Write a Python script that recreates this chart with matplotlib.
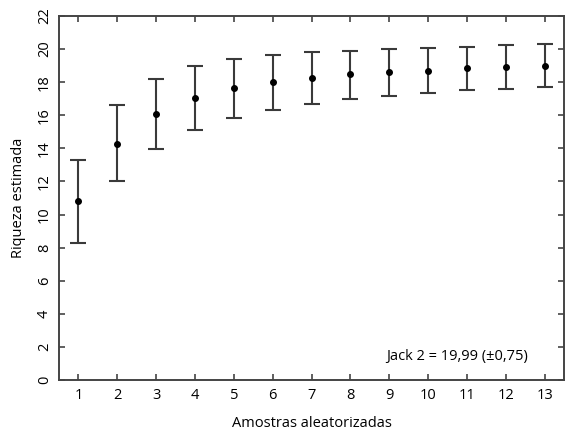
import matplotlib.pyplot as plt
import numpy as np

amostras = np.arange(1, 14)
riqueza = [10.82, 14.26, 16.07, 17.04, 17.62, 18.00, 18.23, 18.47, 18.61, 18.69, 18.83, 18.91, 18.99]
limite_inf = [8.31, 12.02, 13.96, 15.11, 15.83, 16.31, 16.66, 16.96, 17.16, 17.34, 17.52, 17.60, 17.68]
limite_sup = [13.29, 16.60, 18.17, 18.97, 19.42, 19.64, 19.80, 19.91, 20.00, 20.06, 20.14, 20.22, 20.30]

plt.rcParams['font.family'] = ['Open Sans', 'DejaVu Sans']

fig = plt.figure(figsize=(5.65, 4.33), dpi=100)
ax = fig.add_axes([0.1044, 0.1224, 0.894, 0.8406])

y = np.array(riqueza)
err = [y - np.array(limite_inf), np.array(limite_sup) - y]
ax.errorbar(amostras, y, yerr=err, fmt='o', color='black', ecolor='#3a3a3a',
            markersize=4, elinewidth=1.5, capsize=6, capthick=1.5)

ax.set_xlim(0.5, 13.5)
ax.set_ylim(0, 22)
ax.set_xticks(amostras)
ax.set_yticks(range(0, 23, 2))

for s in ax.spines.values():
    s.set_color('#444444')
    s.set_linewidth(1.4)

ax.tick_params(direction='in', top=True, right=True, length=4, width=1.2,
               color='#444444', labelsize=10.5)
ax.tick_params(axis='x', pad=6)
ax.tick_params(axis='y', labelrotation=90, pad=5)
for lbl in ax.get_yticklabels():
    lbl.set_verticalalignment('center')

ax.set_xlabel('Amostras aleatorizadas', fontsize=10.5, labelpad=9)
ax.set_ylabel('Riqueza estimada', fontsize=10.5, labelpad=8)

ax.text(12.57, 1.45, 'Jack 2 = 19,99 (±0,75)', ha='right', va='center', fontsize=10.5)

fig.savefig('out.png', dpi=100)
